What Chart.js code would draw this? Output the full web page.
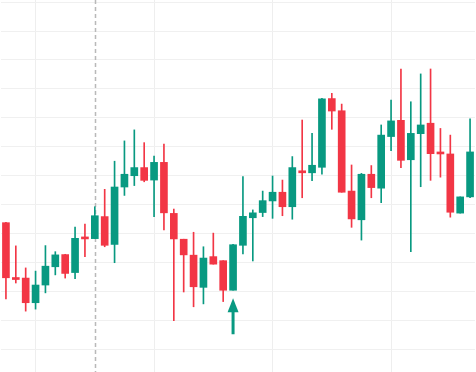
<!DOCTYPE html>
<html>
<head>
<meta charset="utf-8">
<script src="https://cdn.jsdelivr.net/npm/chart.js@4"></script>
<style>
  html, body { margin: 0; padding: 0; background: #ffffff; }
  #wrap { width: 476px; height: 372px; }
</style>
</head>
<body>
<div id="wrap"><canvas id="chart"></canvas></div>
<script>
// Candle data (arbitrary price units)
const labels = Array.from({ length: 48 }, (_, i) => String(i + 1));
const opens  = [143.9, 124.8, 124.8, 116.3, 122.4, 128.7, 132.9, 126.7, 138.8, 138.4,
                146.0, 136.4, 156.2, 160.1, 162.9, 158.6, 164.7, 147.1, 138.2, 132.7,
                121.6, 132.2, 130.8, 120.6, 136.1, 145.6, 147.4, 151.4, 154.4, 149.4,
                161.8, 161.1, 163.0, 186.7, 182.5, 154.8, 144.9, 160.6, 155.8, 173.6,
                179.2, 165.6, 174.6, 178.2, 168.0, 167.6, 147.2, 152.8];
const highs  = [144.0, 135.9, 128.3, 127.2, 136.0, 133.9, 133.0, 142.4, 143.4, 149.4,
                155.4, 165.1, 172.1, 175.9, 171.5, 166.9, 171.0, 148.6, 138.2, 140.6,
                135.6, 140.3, 130.8, 136.4, 159.8, 148.3, 154.8, 160.0, 158.6, 166.7,
                179.3, 174.7, 186.8, 188.5, 184.8, 163.8, 160.9, 163.6, 177.6, 186.2,
                196.9, 185.6, 195.2, 196.9, 176.4, 174.1, 152.8, 179.7];
const lows   = [117.6, 123.1, 113.4, 114.1, 119.7, 125.9, 124.8, 124.6, 132.2, 138.4,
                135.6, 130.1, 153.3, 156.7, 158.0, 146.0, 141.4, 110.1, 120.0, 114.9,
                115.9, 129.6, 116.7, 120.6, 133.1, 130.7, 146.0, 145.4, 146.3, 145.1,
                152.5, 158.4, 160.6, 176.1, 154.4, 142.3, 137.9, 152.5, 150.8, 168.7,
                162.9, 133.9, 156.3, 158.5, 159.6, 145.8, 147.2, 152.5];
const closes = [124.9, 124.3, 116.3, 122.4, 128.9, 132.8, 126.4, 138.5, 138.3, 146.3,
                136.1, 156.2, 160.6, 162.9, 158.5, 164.7, 147.3, 138.3, 132.8, 121.8,
                131.7, 129.6, 120.6, 136.3, 146.1, 147.3, 151.5, 154.4, 149.4, 162.9,
                161.1, 163.7, 186.6, 182.4, 154.4, 145.2, 160.6, 156.0, 174.1, 179.0,
                165.4, 174.7, 177.6, 167.7, 167.6, 147.5, 152.8, 168.3];

// Grid levels and markers
const yTicks = [100, 110, 120, 130, 140, 150, 160, 170, 180, 190, 200, 210, 220];
const xGridAt = [3, 15, 27, 39];
const markerIndex = 9;   // dashed vertical line
const arrowIndex = 23;   // buy arrow under this candle

const UP = '#089981';
const DOWN = '#F23645';
const candleColors = opens.map((o, i) => closes[i] >= o ? UP : DOWN);

// Dashed vertical line + arrow
const extras = {
    id: 'extras',
    beforeDatasetsDraw(chart) {
        const { ctx, chartArea, scales } = chart;
        const x = Math.round(scales.x.getPixelForValue(markerIndex)) + 0.5;
        ctx.save();
        ctx.strokeStyle = '#b9b9b9';
        ctx.lineWidth = 1.5;
        ctx.setLineDash([4, 3]);
        ctx.beginPath();
        ctx.moveTo(x, chartArea.top);
        ctx.lineTo(x, chartArea.bottom);
        ctx.stroke();
        ctx.restore();
    },
    afterDatasetsDraw(chart) {
        const { ctx, scales } = chart;
        const x = scales.x.getPixelForValue(arrowIndex);
        const tip = scales.y.getPixelForValue(lows[arrowIndex]) + 8;
        ctx.save();
        ctx.fillStyle = UP;
        ctx.strokeStyle = UP;
        ctx.beginPath();
        ctx.moveTo(x, tip);
        ctx.lineTo(x - 5.5, tip + 14);
        ctx.lineTo(x + 5.5, tip + 14);
        ctx.closePath();
        ctx.fill();
        ctx.lineWidth = 3;
        ctx.beginPath();
        ctx.moveTo(x, tip + 12);
        ctx.lineTo(x, tip + 36);
        ctx.stroke();
        ctx.restore();
    }
};

const ctx = document.getElementById('chart').getContext('2d');

const chart = new Chart(ctx, {
    type: 'bar',
    data: {
        labels: labels,
        datasets: [
            {
                // bodies
                data: opens.map((o, i) => [o, closes[i]]),
                backgroundColor: candleColors,
                barThickness: 7,
                minBarLength: 2,
                grouped: false
            },
            {
                // wicks
                data: lows.map((l, i) => [l, highs[i]]),
                backgroundColor: candleColors,
                barThickness: 1,
                grouped: false
            }
        ]
    },
    options: {
        animation: false,
        responsive: true,
        maintainAspectRatio: false,
        layout: { padding: { left: 1, right: 1, top: 0, bottom: 0 } },
        plugins: {
            legend: { display: false },
            tooltip: { enabled: false }
        },
        scales: {
            x: {
                ticks: { display: false, autoSkip: false },
                border: { display: false },
                grid: {
                    offset: false,
                    drawTicks: false,
                    color: c => xGridAt.includes(c.index) ? '#eeeeee' : 'rgba(0,0,0,0)'
                },
                afterFit: s => { s.height = 0; }
            },
            y: {
                min: 92.41,
                max: 220.69,
                ticks: { display: false },
                border: { display: false },
                grid: { drawTicks: false, color: '#f0f0f0' },
                afterBuildTicks: s => { s.ticks = yTicks.map(v => ({ value: v })); },
                afterFit: s => { s.width = 0; }
            }
        }
    },
    plugins: [extras]
});
</script>
</body>
</html>
